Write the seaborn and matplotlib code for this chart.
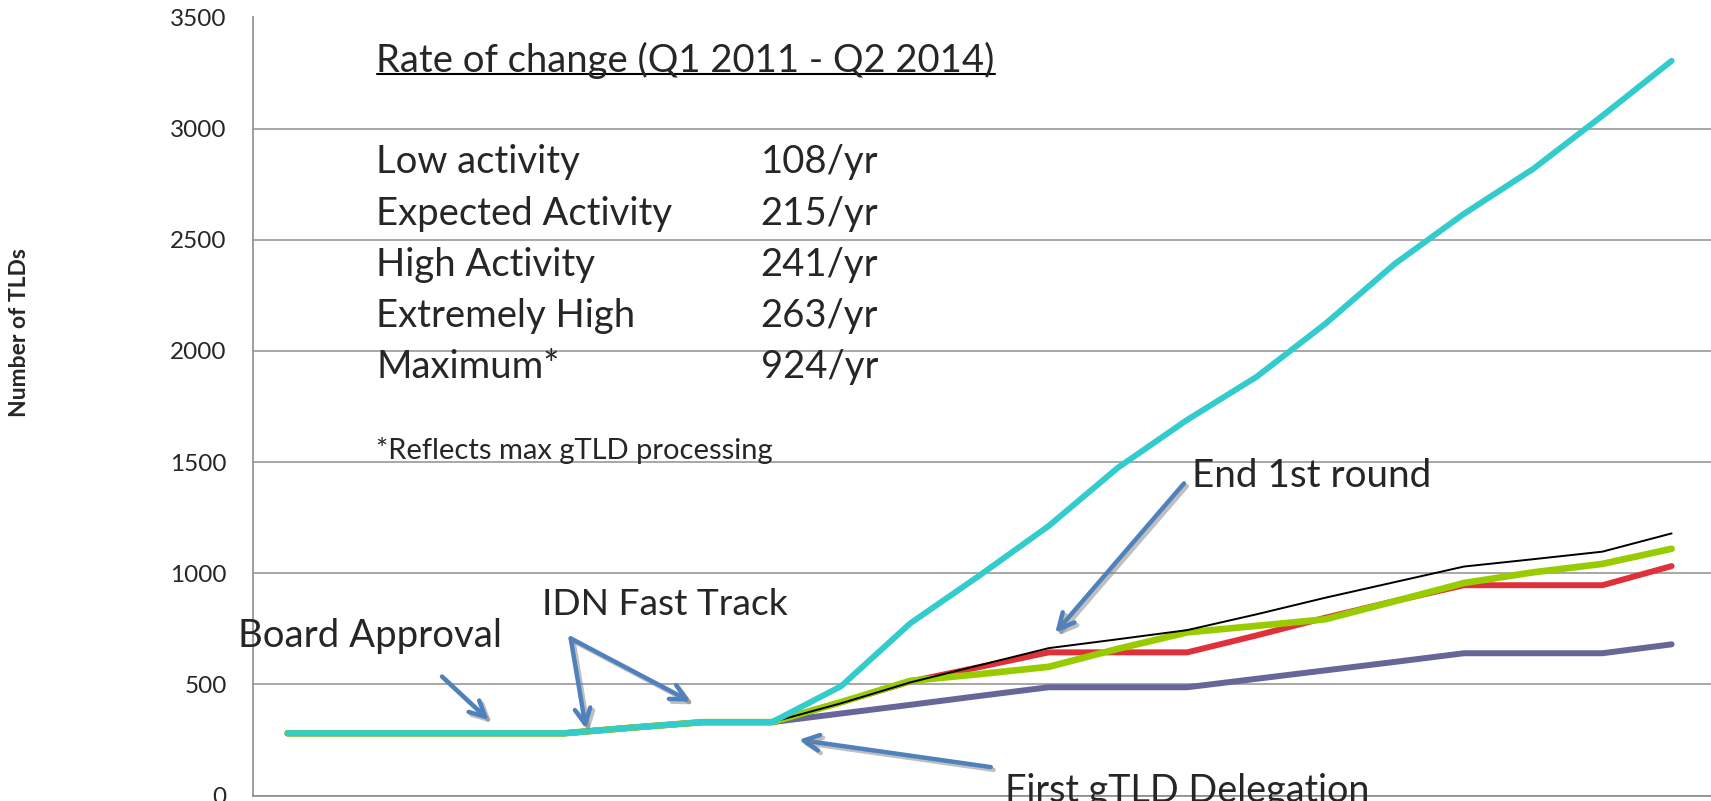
import matplotlib
matplotlib.use("Agg")
import matplotlib.pyplot as plt
import matplotlib.patheffects as pe
from matplotlib.lines import Line2D
import pandas as pd
import seaborn as sns

# quarterly index (x labels are cut off in the original)
quarter = list(range(21))

low_activity = [280, 280, 280, 280, 280, 306, 330, 330, 369, 408, 448, 487, 487, 487,
                 525, 563, 601, 640, 640, 640, 680]
expected_activity = [280, 280, 280, 280, 280, 306, 330, 330, 420, 513, 578, 644, 644, 644,
                     720, 800, 875, 946, 946, 946, 1032]
high_activity = [280, 280, 280, 280, 280, 306, 330, 330, 420, 516, 546, 579, 660, 734,
                 763, 793, 874, 956, 1004, 1042, 1110]
extremely_high = [280, 280, 280, 280, 280, 306, 330, 330, 415, 509, 586, 663, 703, 744,
                  815, 890, 960, 1030, 1063, 1097, 1179]
maximum = [280, 280, 280, 280, 280, 306, 330, 330, 492, 775, 990, 1213, 1475, 1690,
           1883, 2123, 2392, 2617, 2819, 3058, 3305]

rate_labels = ["Low activity", "Expected Activity", "High Activity", "Extremely High", "Maximum*"]
rate_values = ["108/yr", "215/yr", "241/yr", "263/yr", "924/yr"]

y_ticks = [0, 500, 1000, 1500, 2000, 2500, 3000, 3500]

df = pd.DataFrame({
    "quarter": quarter,
    "Low activity": low_activity,
    "Expected Activity": expected_activity,
    "High Activity": high_activity,
    "Extremely High": extremely_high,
    "Maximum": maximum,
})

# drawing order matters: cyan sits on top of the shared flat part
styles = [
    ("Low activity", "#666699", 4.3),
    ("Expected Activity", "#E0313A", 4.3),
    ("High Activity", "#99CC00", 4.8),
    ("Extremely High", "#000000", 1.4),
    ("Maximum", "#33CCCC", 4.3),
]

sns.set_style("white")
plt.rcParams["font.family"] = ["Lato", "DejaVu Sans"]

W, H = 1711, 801
fig = plt.figure(figsize=(W / 100, H / 100), dpi=100)
ax = fig.add_axes([253 / W, 5.5 / H, (W - 253) / W, (795.5 - 17.5) / H])

for name, color, lw in styles:
    sns.lineplot(data=df, x="quarter", y=name, color=color, linewidth=lw, ax=ax,
                 solid_capstyle="round", solid_joinstyle="round")

ax.set_xlim(-0.5, -0.5 + (W - 253) / 69.2)
ax.set_ylim(0, 3500)
ax.set_yticks(y_ticks)
ax.set_yticklabels([str(v) for v in y_ticks], fontsize=17.5)
ax.set_xticks([q - 0.5 for q in quarter] + [20.5])
ax.set_xticklabels([])
ax.tick_params(axis="x", direction="out", length=8, color="#8c8c8c", width=1)
ax.tick_params(axis="y", length=0, pad=19)
ax.set_xlabel("")
ax.set_ylabel("")
ax.grid(axis="y", color="#a0a0a0", linewidth=1.3)
ax.set_axisbelow(True)
for side in ["top", "right"]:
    ax.spines[side].set_visible(False)
for side in ["left", "bottom"]:
    ax.spines[side].set_color("#8c8c8c")
    ax.spines[side].set_linewidth(1.2)

fig.text(19.6 / W, 1 - 333 / H, "Number of TLDs", rotation=90, fontsize=16.5,
         fontweight="bold", ha="center", va="center")


def fig_xy(x, y):
    return (x / W, 1 - y / H)


# rate of change box
title = fig.text(*fig_xy(376.5, 60.5), "Rate of change (Q1 2011 - Q2 2014)",
                 fontsize=27.5, va="center", ha="left")
row_y = [161.5, 213.9, 265.2, 316.5, 366.7]
for lab, val, y in zip(rate_labels, rate_values, row_y):
    fig.text(*fig_xy(376.5, y), lab, fontsize=27.5, va="center", ha="left")
    fig.text(*fig_xy(760.6, y), val, fontsize=27.5, va="center", ha="left")
fig.text(*fig_xy(376.5, 450.5), "*Reflects max gTLD processing", fontsize=21,
         va="center", ha="left")

# annotation labels
fig.text(*fig_xy(1191.6, 475.6), "End 1st round", fontsize=27.8, va="center", ha="left")
fig.text(*fig_xy(542.3, 604.3), "IDN Fast Track", fontsize=26.8, va="center", ha="left")
fig.text(*fig_xy(237.9, 636.0), "Board Approval", fontsize=27.6, va="center", ha="left")
fig.text(*fig_xy(1005.0, 791.0), "First gTLD Delegation", fontsize=27.2, va="center", ha="left")

arrows = [
    ((442.0, 676.5), (488.9, 720.2)),
    ((570.7, 638.4), (586.0, 729.0)),
    ((570.7, 638.4), (690.7, 701.6)),
    ((1184.0, 483.4), (1055.2, 632.9)),
    ((990.8, 767.1), (798.8, 739.8)),
]
for tail, head in arrows:
    ax.annotate("", xy=(head[0], H - head[1]), xycoords="figure pixels",
                xytext=(tail[0], H - tail[1]), textcoords="figure pixels",
                arrowprops=dict(arrowstyle="->", color="#4F81BD", lw=3.2,
                                mutation_scale=28, shrinkA=0, shrinkB=0,
                                path_effects=[pe.SimpleLineShadow(offset=(2, -2), shadow_color="#808080", alpha=0.5),
                                              pe.Normal()]))

# underline the title
fig.canvas.draw()
bb = title.get_window_extent()
fig.add_artist(Line2D([bb.x0 / W, bb.x1 / W], [(H - 74.2) / H] * 2, color="black",
                      linewidth=1.5, transform=fig.transFigure))

fig.savefig("out.png", dpi=100)
plt.close(fig)
